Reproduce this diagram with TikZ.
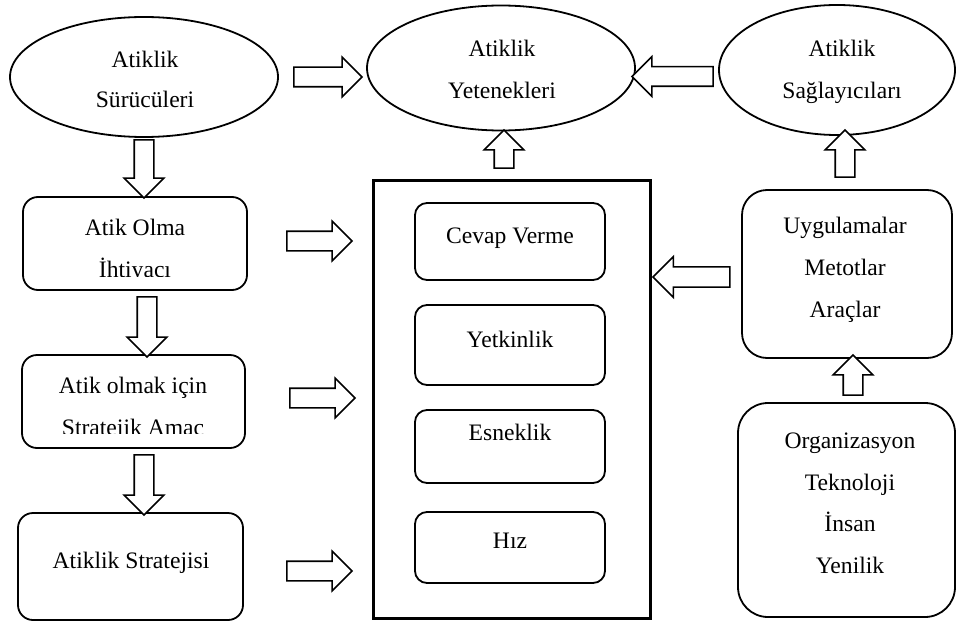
\documentclass[tikz,border=0pt]{standalone}
\usepackage{fontspec}
\setmainfont{Liberation Serif}
\usetikzlibrary{shapes.geometric,shapes.arrows}
\begin{document}
\begin{tikzpicture}[x=1pt,y=-1pt,
  ell/.style={draw, ellipse, line width=1.8pt, inner sep=0pt},
  rbox/.style={draw, rectangle, line width=1.8pt, rounded corners=#1, inner sep=0pt},
  rbox/.default=15pt,
  bigbox/.style={draw, rectangle, line width=3pt, inner sep=0pt},
  barrow/.style={single arrow, draw, line width=1.6pt, fill=white, inner sep=0pt,
     text height=18pt, text depth=0pt, single arrow head extend=10pt, minimum width=38pt},
  txt/.style={font=\fontsize{23.6}{28}\selectfont, inner sep=0pt, anchor=base}]
\useasboundingbox (0,0) rectangle (960,623);
\fill[white] (0,0) rectangle (960,623);
% ellipses
\node[ell, minimum width=268pt, minimum height=120pt] (e1) at (144,77) {};
\node[ell, minimum width=268pt, minimum height=125pt] (e2) at (501,68) {};
\node[ell, minimum width=236pt, minimum height=130pt] (e3) at (837,70) {};
\node[txt] (e1a) at (145,68) {Atiklik};
\node[txt] (e1b) at (145,108) {Sürücüleri};
\node[txt] (e2a) at (502,57) {Atiklik};
\node[txt] (e2b) at (502,99) {Yetenekleri};
\node[txt] (e3a) at (842,57) {Atiklik};
\node[txt] (e3b) at (842,99) {Sağlayıcıları};
% left boxes
\node[rbox, minimum width=224pt, minimum height=93pt] (b1) at (135,243.5) {};
\node[rbox, minimum width=223pt, minimum height=93pt] (b2) at (133.5,401.5) {};
\node[rbox, minimum width=225pt, minimum height=107pt] (b3) at (130.5,566.5) {};
\node[txt] (b1a) at (135,235) {Atik Olma};
\begin{scope}
\clip (30,250) rectangle (240,276);
\node[txt] (b1b) at (135,277) {İhtiyacı};
\end{scope}
\node[txt] (b2a) at (133,393) {Atik olmak için};
\begin{scope}
\clip (30,405) rectangle (240,433);
\node[txt] (b2b) at (133,435) {Stratejik Amaç};
\end{scope}
\node[txt] (b3a) at (131,568) {Atiklik Stratejisi};
% big box
\node[bigbox, minimum width=277pt, minimum height=438pt] (big) at (511.5,399) {};
\node[rbox=12pt, minimum width=190pt, minimum height=77pt] (i1) at (510,241.5) {};
\node[rbox=12pt, minimum width=190pt, minimum height=80pt] (i2) at (510,345) {};
\node[rbox=12pt, minimum width=190pt, minimum height=73pt] (i3) at (510,446.5) {};
\node[rbox=12pt, minimum width=190pt, minimum height=71pt] (i4) at (510,547.5) {};
\node[txt] (i1a) at (510,243) {Cevap Verme};
\node[txt] (i2a) at (510,347) {Yetkinlik};
\node[txt] (i3a) at (510,440) {Esneklik};
\node[txt] (i4a) at (510,548) {Hız};
% right boxes
\node[rbox=25pt, minimum width=210pt, minimum height=168pt] (u) at (847,274) {};
\node[rbox=30pt, minimum width=217pt, minimum height=214pt] (o) at (846.5,510) {};
\node[txt] (ua) at (845,233) {Uygulamalar};
\node[txt] (ub) at (845,275) {Metotlar};
\node[txt] (uc) at (845,317) {Araçlar};
\node[txt] (oa) at (850,448) {Organizasyon};
\node[txt] (ob) at (850,490) {Teknoloji};
\node[txt] (oc) at (850,531) {İnsan};
\node[txt] (od) at (850,573) {Yenilik};
% block arrows
\node[barrow, minimum height=68pt] (a1) at (323,77) {};
\node[barrow, minimum height=81pt, rotate=180] (a2) at (677.5,76.5) {};
\node[barrow, minimum height=38pt, rotate=90] (a3) at (504,154) {};
\node[barrow, minimum height=47pt, rotate=90] (a4) at (845,158.5) {};
\node[barrow, minimum height=58pt, rotate=-90] (a5) at (144,164) {};
\node[barrow, minimum height=60pt, rotate=-90] (a6) at (147,322) {};
\node[barrow, minimum height=60pt, rotate=-90] (a7) at (144,480) {};
\node[barrow, minimum height=65pt] (a8) at (314.5,241) {};
\node[barrow, minimum height=65pt] (a9) at (317.5,398) {};
\node[barrow, minimum height=65pt] (a10) at (314.5,571) {};
\node[barrow, minimum height=77pt, minimum width=41pt, rotate=180] (a11) at (696.5,277) {};
\node[barrow, minimum height=40pt, rotate=90] (a12) at (853,380) {};
\end{tikzpicture}
\end{document}
